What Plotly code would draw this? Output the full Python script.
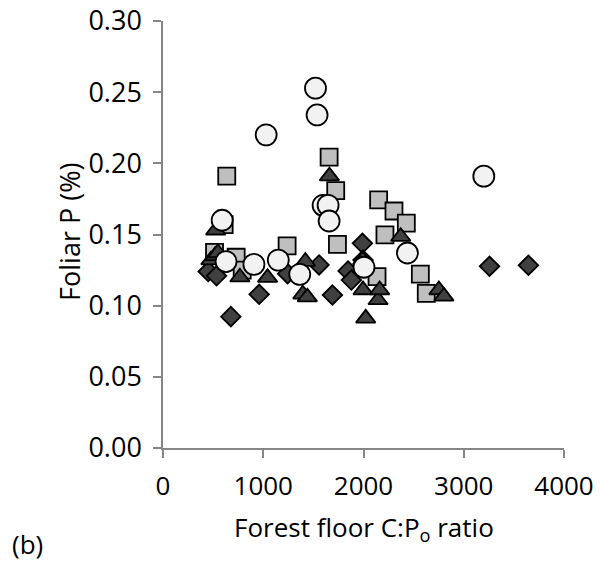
import plotly.graph_objects as go

# Series data (Forest floor C:Po ratio vs Foliar P %)
circle_x = [1521, 1537, 1029, 3200, 590, 1597, 1647, 1657, 2438, 629, 907, 1150, 1364, 2005]
circle_y = [0.2528, 0.234, 0.220, 0.191, 0.160, 0.1705, 0.1705, 0.1595, 0.137, 0.131, 0.129, 0.132, 0.122, 0.127]

square_x = [636, 1657, 1723, 610, 2151, 2304, 2427, 2214, 1238, 1740, 514, 730, 790, 2135, 2567, 2626]
square_y = [0.191, 0.2043, 0.1808, 0.157, 0.1743, 0.1665, 0.158, 0.1497, 0.142, 0.1431, 0.1375, 0.134, 0.125, 0.1204, 0.1221, 0.1087]

triangle_x = [1660, 525, 2371, 478, 520, 548, 767, 1043, 1420, 1395, 1440, 1992, 1995, 2022, 2145, 2161, 2752, 2802]
triangle_y = [0.191, 0.153, 0.1485, 0.132, 0.135, 0.137, 0.120, 0.1197, 0.131, 0.108, 0.106, 0.132, 0.111, 0.0911, 0.104, 0.111, 0.111, 0.1065]

diamond_x = [451, 534, 677, 959, 1243, 1557, 1690, 1846, 1879, 1989, 1995, 3257, 3645]
diamond_y = [0.124, 0.121, 0.0923, 0.108, 0.1225, 0.1286, 0.1075, 0.1244, 0.118, 0.1438, 0.132, 0.1277, 0.1284]

x_ticks = [0, 1000, 2000, 3000, 4000]
y_ticks = [0.00, 0.05, 0.10, 0.15, 0.20, 0.25, 0.30]

fig = go.Figure()
line = dict(color="#000000", width=1.8)
fig.add_trace(go.Scatter(x=square_x, y=square_y, mode="markers",
                         marker=dict(symbol="square", size=17, color="#bfbfbf", line=line)))
fig.add_trace(go.Scatter(x=diamond_x, y=diamond_y, mode="markers",
                         marker=dict(symbol="diamond", size=15, color="#404040", line=line)))
fig.add_trace(go.Scatter(x=triangle_x, y=triangle_y, mode="markers",
                         marker=dict(symbol="triangle-up", size=17, color="#404040", line=line)))
fig.add_trace(go.Scatter(x=circle_x, y=circle_y, mode="markers",
                         marker=dict(symbol="circle", size=21, color="#f2f2f2", line=line)))

font = "Open Sans, Lato, sans-serif"
fig.update_layout(
    width=600, height=563,
    margin=dict(l=163, r=36, t=21, b=115, autoexpand=False),
    paper_bgcolor="white", plot_bgcolor="white",
    showlegend=False,
    font=dict(family=font, size=26, color="#000000"),
    xaxis=dict(range=[0, 4000], tickvals=x_ticks, ticktext=[str(v) for v in x_ticks],
               showline=True, linecolor="#868686", linewidth=1.5,
               ticks="outside", ticklen=8, tickcolor="#868686", tickwidth=1.5,
               showgrid=False, zeroline=False, ticklabelstandoff=6, automargin=False,
               ticklabeloverflow="allow", tickfont=dict(family=font, size=26)),
    yaxis=dict(range=[0, 0.30], tickvals=y_ticks, ticktext=[f"{v:.2f}" for v in y_ticks],
               showline=True, linecolor="#868686", linewidth=1.5,
               ticks="outside", ticklen=8, tickcolor="#868686", tickwidth=1.5,
               showgrid=False, zeroline=False, ticklabelstandoff=6, automargin=False,
               ticklabeloverflow="allow", tickfont=dict(family=font, size=27)),
    annotations=[
        dict(text="Forest floor C:P<sub>o</sub> ratio", xref="paper", yref="paper",
             x=0.501, y=-0.187, xanchor="center", yanchor="middle", showarrow=False,
             font=dict(family=font, size=26)),
        dict(text="Foliar P (%)", xref="paper", yref="paper", textangle=-90,
             x=-0.232, y=0.506, xanchor="center", yanchor="middle", showarrow=False,
             font=dict(family=font, size=27)),
        dict(text="(b)", xref="paper", yref="paper",
             x=-0.339, y=-0.224, xanchor="center", yanchor="middle", showarrow=False,
             font=dict(family=font, size=26)),
    ],
)
fig.write_html("out.html", config={"displayModeBar": False},
               post_script="document.body.style.margin='0';")
